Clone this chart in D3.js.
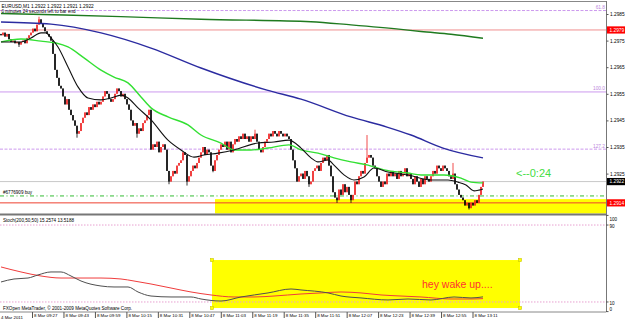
<!DOCTYPE html>
<html>
<head>
<meta charset="utf-8">
<title>EURUSD M1</title>
<script src="https://d3js.org/d3.v7.min.js"></script>
<style>
  body { margin: 0; background: #fff; }
  text { font-family: "Liberation Sans", Arial, sans-serif; }
</style>
</head>
<body>
<script>

// ---- data (prices kept as pips above 1.2900) ----

// close of every M1 bar, left to right
var closes = [
  77,78,76.5,77.5,75.5,74.5,75,74,74.5,73.5,
  74.5,75,74,76,77,78,79.5,78.5,81,83,
  81.5,80,78.5,77.5,76.5,75,70,64,61,58,
  57,54,51,53,49,47,45,43,40,41,
  44,46,48,47,50,49,51,50,52,51,
  52,54,56,55,53,52,53,55,57,56,
  54,55,53,51,49,45,43,44,40,42,
  41,44,45,47,49,34,36,35,37,33,
  35,36,34,26,22,24,26,25,28,29,
  30,33,32,22,24,26,28,27,29,31,
  33,35,32,34,33,28,26,30,32,34,
  36,35,37,34,37,33,36,38,37,39,
  38,40,38,39,37,39,38,40,37,34,
  33,35,37,38,40,39,41,40,39,41,
  40,39,40,39,38,34,30,27,22,24,
  25,23,26,24,21,22,26,27,28,26,
  29,31,30,32,28,24,18,16,15,19,
  17,21,18,20,17,15,17,22,21,24,
  26,25,29,31,32,31,28,27,24,22,
  20,22,21,25,24,26,24,25,23,26,
  24,25,27,24,25,23,21,24,22,20,
  23,21,24,23,22,24,26,25,28,27,
  26,28,27,26,24,23,25,21,19,17,
  16,15,13,14,12,14,13,15,14,17,
  20,22
];
var firstOpen = 77.5;

// bars with visible shadows: [bar, high, low]
var wicks = [
  [9, null, 72.6], [19, 84, null], [38, null, 38.5], [68, null, 38.5],
  [84, null, 21], [93, null, 20.5], [106, null, 25.5], [127, 41.5, null],
  [154, null, 20], [168, null, 14], [175, null, 14], [183, 39.5, null],
  [226, 29, null], [234, null, 11.5]
];

// moving averages, [bar, pips]
var maSlow = [[0,85.2],[31.5,84.6],[60,84],[100,83],[155,82.1],[175,80.9],[200,79.2],[210,78.4],[225,77.4],[241,75.9]];
var maBlue = [[0,82],[25,81.2],[50,77.9],[75,72.2],[100,64.7],[133,56.4],[150,53],[175,46.3],[193,42.5],[205,39.5],[221,34.6],[241,30.9]];
var maGreen = [[0,74.5],[10,75.6],[20,74.8],[27.5,74.1],[33.5,72.6],[41.5,68.5],[50,63.9],[56.5,61.3],[63.5,59.1],[70,53.8],[75,49.7],
  [83.5,46.3],[93.5,43.3],[100,39.5],[110,36.5],[116.5,33.9],[125,33.9],[133.5,34.6],[144,35.8],[150,33.9],[158.5,32.7],[166.5,30.9],
  [175,29.4],[183.5,28.2],[191.5,26.4],[203.5,25.2],[210,24.5],[221.5,24.5],[230,23.3],[235,21.8],[241,21.5]];
var maFast = [[0,74.5],[10,74.5],[15,76],[20,77.9],[22.5,77.9],[25,76],[28.5,72.6],[33.5,65.1],[38.5,57.6],[43.5,53.4],[50,52.7],
  [55,53.4],[60,54.5],[63.5,53.4],[68.5,49.7],[75,45.2],[83.5,37.6],[90,33.9],[96.5,31.2],[101.5,32],[108.5,32.7],[116.5,33.9],
  [128.5,36.5],[136.5,36.9],[144,37.6],[150,34.6],[155,30.9],[158.5,29.4],[163.5,30.1],[166.5,28.2],[171.5,24.5],[176.5,22.6],
  [181.5,23.7],[186.5,27.1],[193.5,25.6],[203.5,24.5],[215,22.6],[223.5,22.6],[228.5,21.8],[232.5,20.7],[236.5,18.5],[239,18.8],[241,19.2]];

// Stoch(200,50,50), [bar, value]
var stochMain = [[0,30.8],[6.5,33.9],[13.5,34.9],[18.5,38.1],[25,41.2],[30,41.2],[35,37],[40,31.8],[50,26.6],[56.5,25.6],[63.5,25.6],
  [68.5,20.4],[75,16.2],[85,15.2],[95,15.2],[100,13.1],[110,11],[120,15.2],[133.5,19.4],[145,23.5],[150,22.5],[163.5,19.4],
  [170,16.2],[180,14.2],[193.5,12.1],[203.5,13.1],[215,12.1],[226.5,15.2],[235,14.2],[241,15.3]];
var stochSignal = [[0,46.4],[10,41.2],[20,37],[30,34.9],[40,34.9],[50,34.9],[60,33.9],[66.5,31.8],[75,28.7],[85,24.5],[95,20.4],
  [105,17.3],[116.5,15.2],[126.5,15.2],[136.5,16.2],[150,18.3],[160,19.4],[170,20.4],[180,19.4],[190,17.3],[200,16.2],
  [210,15.2],[225,13.1],[235,13.1],[241,13.5]];

// horizontal objects
var fiboLevels = [86.3, 55.7, 34.2];
var fiboLabels = ["61.8", "100.0", "127.2"];
var fiboDashed = [true, false, true];

var priceTicks = [85, 75, 65, 55, 45, 35, 25];
var stochLevels = [90, 10];
var stochLabels = [100, 90, 10, 0];

var boxPrices = [79, 22, 14];
var boxColors = ["#ff0000", "#000000", "#ff0000"];

// time axis (minutes after 09:11)
var timeTicks = [16,32,48,64,80,96,112,128,144,160,176,192,208,224,240];
var timeLabels = ["8 Mar 09:27","8 Mar 09:43","8 Mar 09:59","8 Mar 10:15","8 Mar 10:31","8 Mar 10:47","8 Mar 11:03",
  "8 Mar 11:19","8 Mar 11:35","8 Mar 11:51","8 Mar 12:07","8 Mar 12:23","8 Mar 12:39","8 Mar 12:55","8 Mar 13:11"];

// ---- scales ----
var W = 625, H = 321, axisX = 606;
var x = d3.scaleLinear().domain([0, 241]).range([1, 483]);
var y = d3.scaleLinear().domain([85, 25]).range([14, 173.6]);
var yS = d3.scaleLinear().domain([0, 100]).range([311.6, 215.4]);
var xT = d3.scaleLinear().domain([16, 240]).range([32, 472.5]);
var fmt = function(p) { return (1.29 + p / 10000).toFixed(4); };

var svg = d3.select("body").append("svg").attr("width", W).attr("height", H);
svg.append("rect").attr("width", W).attr("height", H).attr("fill", "#fff");

// ---- main window ----
var main = svg.append("g");

// yellow rectangle behind the lows
main.append("rect")
  .attr("x", x(107)).attr("y", y(15.4))
  .attr("width", axisX - x(107)).attr("height", 213.5 - y(15.4))
  .attr("fill", "#ffff00");

// fibo levels
fiboLevels.forEach(function(p, i) {
  main.append("line").attr("x1", 0).attr("x2", axisX).attr("y1", y(p)).attr("y2", y(p))
    .attr("stroke", "#cc99ee").attr("stroke-width", 1)
    .attr("stroke-dasharray", fiboDashed[i] ? "3,1.5" : null);
  main.append("text").attr("x", axisX - 1).attr("y", y(p) - 1.5)
    .attr("text-anchor", "end").attr("font-size", 4.8).attr("fill", "#bb88dd").text(fiboLabels[i]);
});

// other horizontal lines
main.append("line").attr("x1", 0).attr("x2", axisX).attr("y1", y(79)).attr("y2", y(79))
  .attr("stroke", "#f09090").attr("stroke-width", 1);
main.append("line").attr("x1", 0).attr("x2", axisX).attr("y1", y(22)).attr("y2", y(22))
  .attr("stroke", "#c8c8c8").attr("stroke-width", 1);
main.append("line").attr("x1", 0).attr("x2", axisX).attr("y1", y(16.6)).attr("y2", y(16.6))
  .attr("stroke", "#33bb33").attr("stroke-width", 1).attr("stroke-dasharray", "4,2.5,1,2.5");
main.append("line").attr("x1", 0).attr("x2", axisX).attr("y1", y(14)).attr("y2", y(14))
  .attr("stroke", "#ee4030").attr("stroke-width", 1);

// candles
var bars = closes.map(function(c, i) {
  var o = i ? closes[i - 1] : firstOpen;
  return { i: i, o: o, c: c, h: Math.max(o, c), l: Math.min(o, c) };
});
wicks.forEach(function(w) {
  if (w[1] != null) bars[w[0]].h = w[1];
  if (w[2] != null) bars[w[0]].l = w[2];
});
var cg = main.append("g");
bars.forEach(function(d) {
  var col = d.c >= d.o ? "#ee2020" : "#000000";
  cg.append("line").attr("x1", x(d.i)).attr("x2", x(d.i)).attr("y1", y(d.h)).attr("y2", y(d.l))
    .attr("stroke", col).attr("stroke-width", 0.8);
  var top = y(Math.max(d.o, d.c)), bot = y(Math.min(d.o, d.c));
  cg.append("rect").attr("x", x(d.i) - 0.75).attr("width", 1.5)
    .attr("y", top).attr("height", Math.max(bot - top, 0.8)).attr("fill", col);
});

// moving averages
var ma = d3.line().x(function(d) { return x(d[0]); }).y(function(d) { return y(d[1]); }).curve(d3.curveMonotoneX);
main.append("path").attr("d", ma(maSlow)).attr("fill", "none").attr("stroke", "#1f7a1f").attr("stroke-width", 1.4);
main.append("path").attr("d", ma(maBlue)).attr("fill", "none").attr("stroke", "#2b2ba0").attr("stroke-width", 1.4);
main.append("path").attr("d", ma(maGreen)).attr("fill", "none").attr("stroke", "#33e033").attr("stroke-width", 1.4);
main.append("path").attr("d", ma(maFast)).attr("fill", "none").attr("stroke", "#111").attr("stroke-width", 1.1);

// texts in the main window
main.append("text").attr("x", 1.5).attr("y", 7.5).attr("font-size", 4.8).attr("fill", "#000")
  .text("EURUSD,M1  1.2922 1.2922 1.2921 1.2922");
main.append("text").attr("x", 1.5).attr("y", 12.8).attr("font-size", 4.6).attr("fill", "#000")
  .text("0 minutes 24 seconds left to bar end");
main.append("text").attr("x", 3).attr("y", y(16.6) - 1.5).attr("font-size", 4.6).attr("fill", "#000")
  .text("#6776909 buy");
main.append("text").attr("x", x(257.5)).attr("y", y(23.7)).attr("font-size", 11)
  .attr("font-family", "Liberation Serif, Times New Roman, serif").attr("fill", "#44dd44").text("<--0:24");

// ---- stochastic window ----
var sub = svg.append("g");
sub.append("rect").attr("x", x(105.5)).attr("y", yS(53.6))
  .attr("width", x(259.5) - x(105.5)).attr("height", yS(3.7) - yS(53.6)).attr("fill", "#ffff00");
stochLevels.forEach(function(v) {
  sub.append("line").attr("x1", 0).attr("x2", axisX).attr("y1", yS(v)).attr("y2", yS(v))
    .attr("stroke", "#e8a0d0").attr("stroke-width", 1).attr("stroke-dasharray", "1.5,1.5");
});
var sl = d3.line().x(function(d) { return x(d[0]); }).y(function(d) { return yS(d[1]); }).curve(d3.curveMonotoneX);
sub.append("path").attr("d", sl(stochSignal)).attr("fill", "none").attr("stroke", "#f03c3c").attr("stroke-width", 1);
sub.append("path").attr("d", sl(stochMain)).attr("fill", "none").attr("stroke", "#505050").attr("stroke-width", 1);

// handles of the selected rectangle
[[105.5, 53.6], [259.5, 53.6], [105.5, 3.7], [259.5, 3.7]].forEach(function(c) {
  sub.append("rect").attr("x", x(c[0]) - 1.5).attr("y", yS(c[1]) - 1.5).attr("width", 3).attr("height", 3)
    .attr("fill", "#ffff00").attr("stroke", "#c8c800").attr("stroke-width", 0.6);
});

sub.append("text").attr("x", x(210.5)).attr("y", yS(24.5)).attr("font-size", 10.5).attr("fill", "#ff3030")
  .text("hey wake up....");
sub.append("text").attr("x", 3).attr("y", 221.5).attr("font-size", 4.6).attr("fill", "#000")
  .text("Stoch(200,50,50) 15.2574 13.5188");
sub.append("text").attr("x", 3).attr("y", 310).attr("font-size", 4.6).attr("fill", "#000")
  .text("FXOpen MetaTrader, \u00a9 2001-2009 MetaQuotes Software Corp.");

// ---- frame and axes ----
svg.append("line").attr("x1", 0).attr("x2", axisX).attr("y1", 1.5).attr("y2", 1.5).attr("stroke", "#888").attr("stroke-width", 1);
svg.append("line").attr("x1", 0).attr("x2", axisX).attr("y1", 214.5).attr("y2", 214.5).attr("stroke", "#777").attr("stroke-width", 2);
svg.append("line").attr("x1", 0).attr("x2", axisX).attr("y1", 312).attr("y2", 312).attr("stroke", "#888").attr("stroke-width", 1);
svg.append("line").attr("x1", axisX + 0.5).attr("x2", axisX + 0.5).attr("y1", 1).attr("y2", 312).attr("stroke", "#777").attr("stroke-width", 1);

var pAxis = svg.append("g").attr("transform", "translate(" + (axisX + 0.5) + ",0)")
  .call(d3.axisRight(y).tickValues(priceTicks).tickFormat(fmt).tickSize(2));
pAxis.select(".domain").remove();
pAxis.selectAll("line").attr("stroke", "#555");
pAxis.selectAll("text").attr("x", 3.5).attr("font-size", 4.8).attr("fill", "#000").attr("font-family", "Liberation Sans, Arial, sans-serif");

// price boxes on the axis
boxPrices.forEach(function(p, i) {
  svg.append("rect").attr("x", axisX + 1).attr("y", y(p) - 3.6).attr("width", 18).attr("height", 7.2).attr("fill", boxColors[i]);
  svg.append("text").attr("x", axisX + 3.5).attr("y", y(p) + 1.7).attr("font-size", 4.8).attr("fill", "#fff").text(fmt(p));
});

// stoch scale labels
stochLabels.forEach(function(v) {
  var yy = Math.max(219, Math.min(309.5, yS(v) + 1));
  svg.append("line").attr("x1", axisX).attr("x2", axisX + 2.5).attr("y1", yS(v)).attr("y2", yS(v)).attr("stroke", "#555");
  svg.append("text").attr("x", axisX + 3.5).attr("y", yy + 1.7).attr("font-size", 4.6).attr("fill", "#000").text(v);
});

// time axis
var tAxis = svg.append("g").attr("transform", "translate(0,312)")
  .call(d3.axisBottom(xT).tickValues(timeTicks).tickFormat(function(d, i) { return timeLabels[i]; }).tickSize(6));
tAxis.select(".domain").remove();
tAxis.selectAll("line").attr("stroke", "#555");
tAxis.selectAll("text").attr("text-anchor", "start").attr("x", 1.5).attr("y", 2.2)
  .attr("font-size", 4.4).attr("fill", "#000").attr("font-family", "Liberation Sans, Arial, sans-serif");
svg.append("text").attr("x", 1).attr("y", 318.8).attr("font-size", 4.4).attr("fill", "#000").text("4 Mar 2011");

</script>
</body>
</html>
